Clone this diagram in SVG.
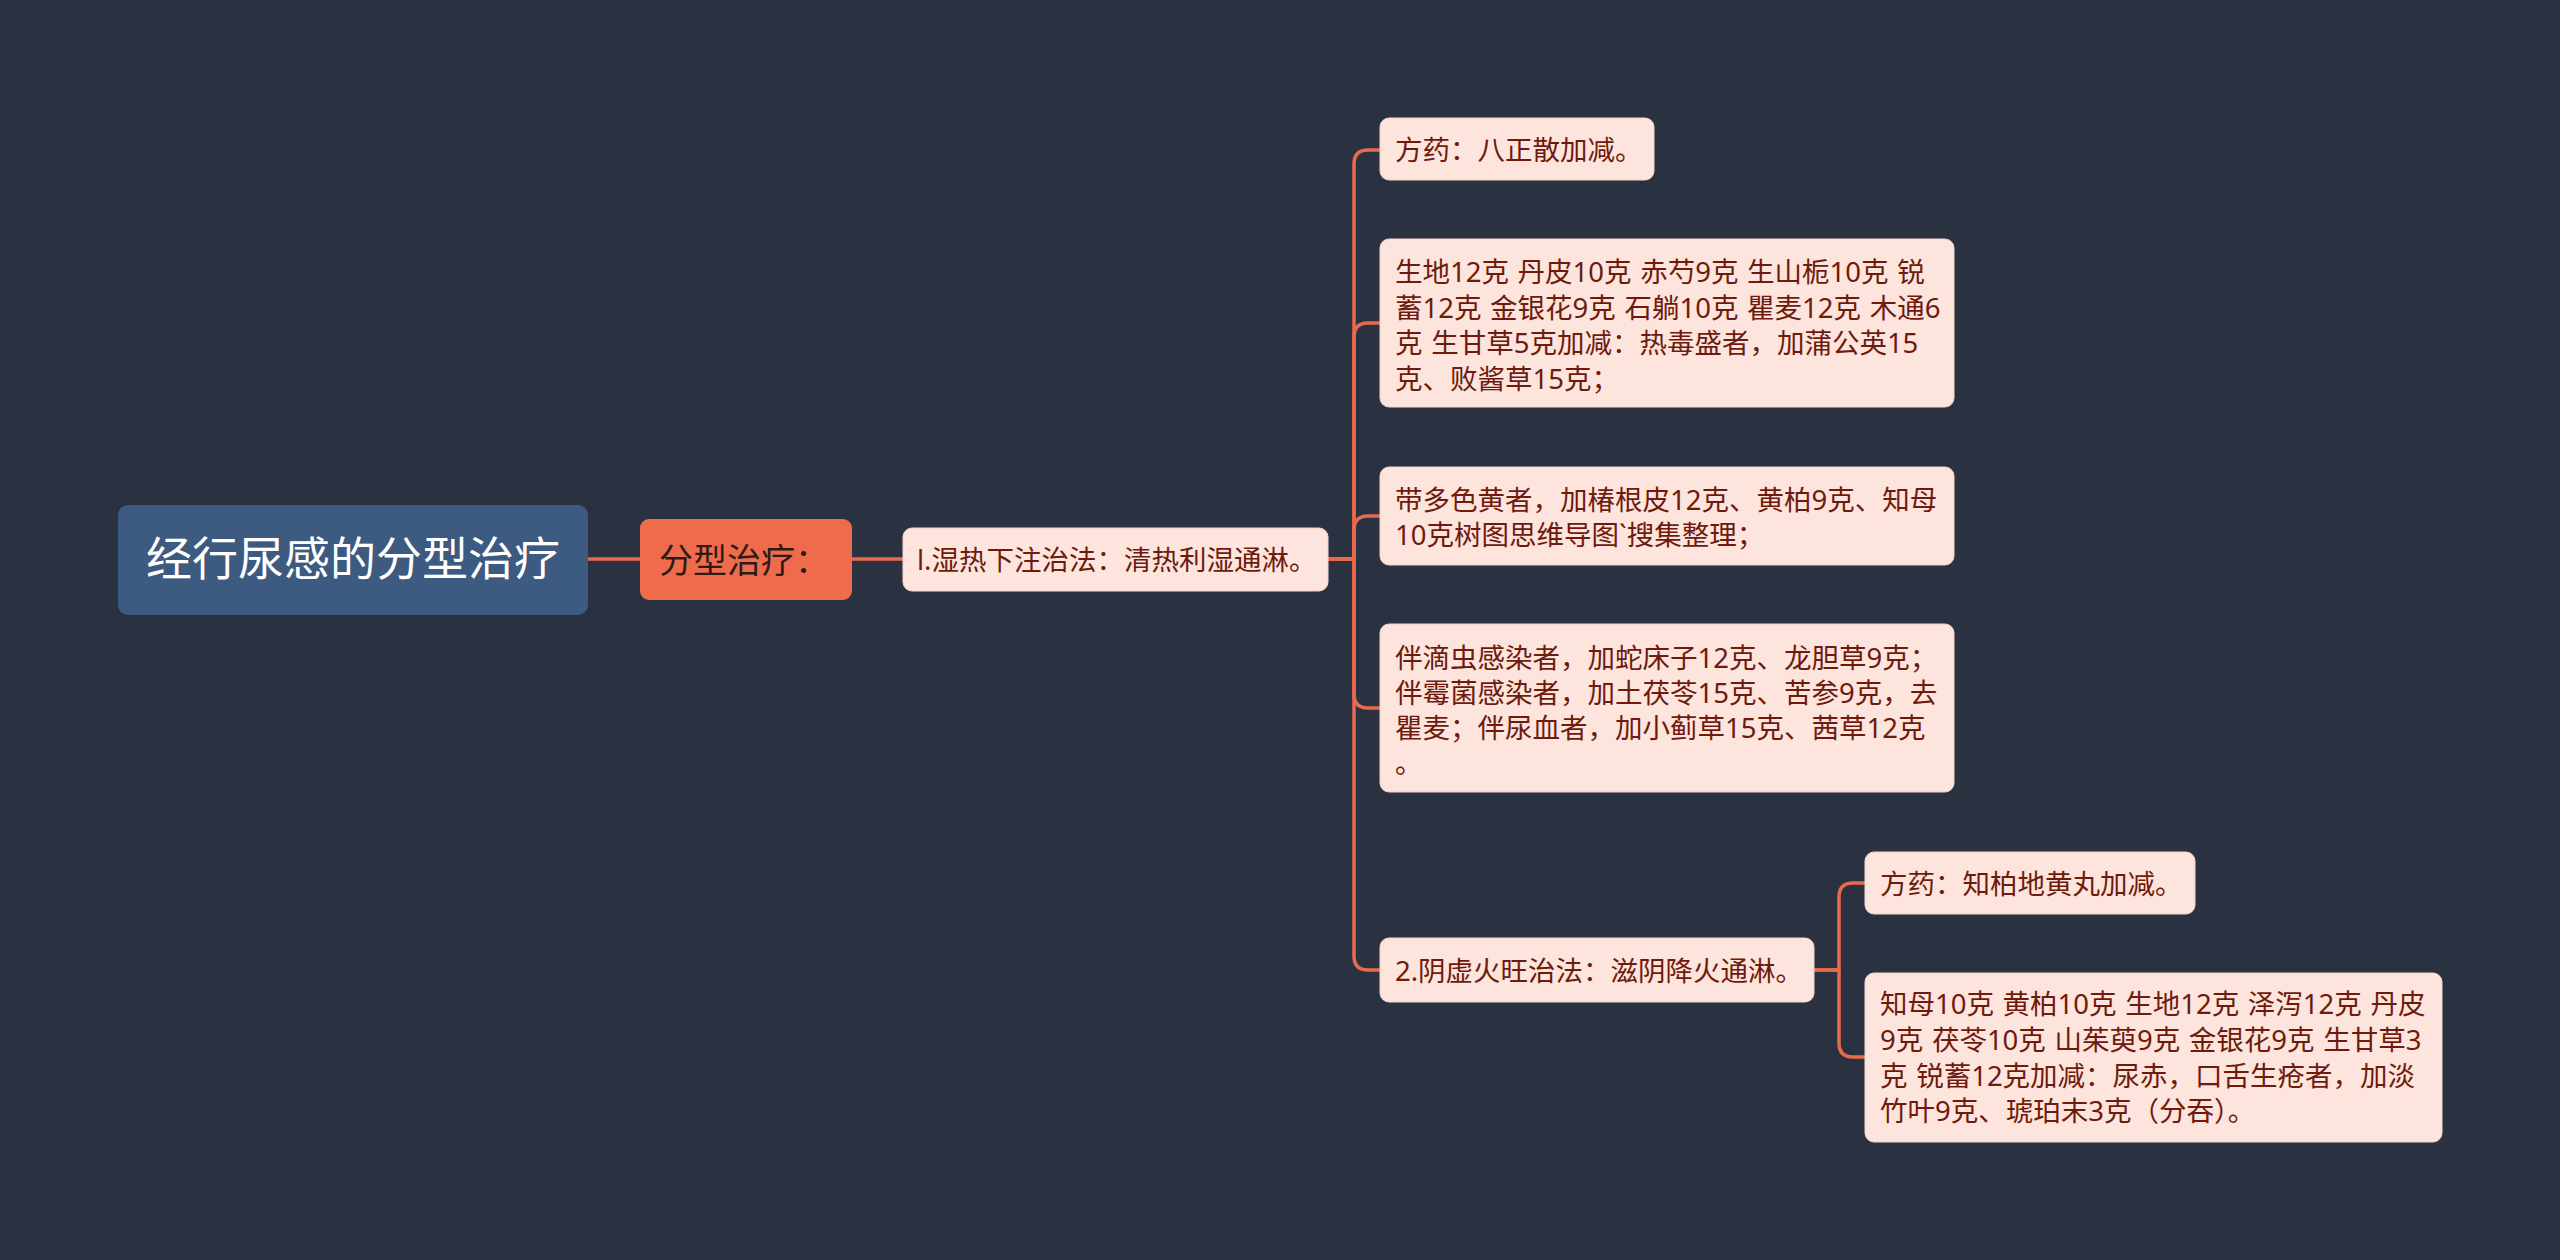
<svg xmlns="http://www.w3.org/2000/svg" width="2560" height="1260" viewBox="0 0 2560 1260">
<style>
.bg{fill:#2a3242}
.root{fill:#3d5a80}
.sub{fill:#ee6b4c}
.leaf{fill:#fde4dd;stroke:#f7d3c9;stroke-width:1}
.t{font-family:"Noto Sans CJK SC","Noto Sans",sans-serif}
.rt{fill:#ffffff;font-size:46px}
.st{fill:#2e1a16;font-size:34px}
.lt{fill:#6e1a0c;font-size:27.5px;font-family:"Noto Sans","Noto Sans CJK SC",sans-serif;word-spacing:1.5px}
.c{fill:none;stroke:#e86a4c;stroke-width:3.5;stroke-linecap:round;stroke-linejoin:round}
</style>
<rect class="bg" x="0" y="0" width="2560" height="1260"/>
<g id="connectors">
<path class="c" d="M588 559 L640 559"/>
<path class="c" d="M852 559 L903 559"/>
<path class="c" d="M1328 559 L1354 559 L1354 164 Q1354 150 1368 150 L1380 150"/>
<path class="c" d="M1328 559 L1354 559 L1354 337 Q1354 323 1368 323 L1380 323"/>
<path class="c" d="M1328 559 L1354 559 L1354 530 Q1354 516 1368 516 L1380 516"/>
<path class="c" d="M1328 559 L1354 559 L1354 694 Q1354 708 1368 708 L1380 708"/>
<path class="c" d="M1328 559 L1354 559 L1354 956 Q1354 970 1368 970 L1380 970"/>
<path class="c" d="M1814 970 L1839 970 L1839 897 Q1839 883 1853 883 L1865 883"/>
<path class="c" d="M1814 970 L1839 970 L1839 1043 Q1839 1057 1853 1057 L1865 1057"/>
</g>
<g id="root">
<rect class="root" x="118" y="505" width="470" height="110" rx="10"/>
<text class="t rt" x="353" y="575" text-anchor="middle">经行尿感的分型治疗</text>
</g>
<g id="n-fenxing">
<rect class="sub" x="640" y="519" width="212" height="81" rx="9"/>
<text class="t st" x="659" y="573">分型治疗：</text>
</g>
<g id="n-shire">
<rect class="leaf" x="903" y="528" width="425" height="63" rx="9"/>
<text class="t lt" x="917" y="570">l.湿热下注治法：清热利湿通淋。</text>
</g>
<g id="n-fangyao1">
<rect class="leaf" x="1380" y="118" width="274" height="62" rx="9"/>
<text class="t lt" x="1395" y="160">方药：八正散加减。</text>
</g>
<g id="n-shengdi">
<rect class="leaf" x="1380" y="239" width="574" height="168" rx="9"/>
<text class="t lt" x="1395" y="282">生地12克 丹皮10克 赤芍9克 生山栀10克 锐</text>
<text class="t lt" x="1395" y="317.5">蓄12克 金银花9克 石躺10克 瞿麦12克 木通6</text>
<text class="t lt" x="1395" y="353">克 生甘草5克加减：热毒盛者，加蒲公英15</text>
<text class="t lt" x="1395" y="388.5">克、败酱草15克；</text>
</g>
<g id="n-daiduo">
<rect class="leaf" x="1380" y="467" width="574" height="98" rx="9"/>
<text class="t lt" x="1395" y="510">带多色黄者，加椿根皮12克、黄柏9克、知母</text>
<text class="t lt" x="1395" y="545">10克树图思维导图`搜集整理；</text>
</g>
<g id="n-bandi">
<rect class="leaf" x="1380" y="624" width="574" height="168" rx="9"/>
<text class="t lt" x="1395" y="668">伴滴虫感染者，加蛇床子12克、龙胆草9克；</text>
<text class="t lt" x="1395" y="703">伴霉菌感染者，加土茯苓15克、苦参9克，去</text>
<text class="t lt" x="1395" y="738">瞿麦；伴尿血者，加小蓟草15克、茜草12克</text>
<text class="t lt" x="1395" y="773">。</text>
</g>
<g id="n-yinxu">
<rect class="leaf" x="1380" y="938" width="434" height="64" rx="9"/>
<text class="t lt" x="1395" y="981">2.阴虚火旺治法：滋阴降火通淋。</text>
</g>
<g id="n-fangyao2">
<rect class="leaf" x="1865" y="852" width="330" height="62" rx="9"/>
<text class="t lt" x="1880" y="894">方药：知柏地黄丸加减。</text>
</g>
<g id="n-zhimu">
<rect class="leaf" x="1865" y="973" width="577" height="169" rx="9"/>
<text class="t lt" x="1880" y="1014">知母10克 黄柏10克 生地12克 泽泻12克 丹皮</text>
<text class="t lt" x="1880" y="1050">9克 茯苓10克 山茱萸9克 金银花9克 生甘草3</text>
<text class="t lt" x="1880" y="1086">克 锐蓄12克加减：尿赤，口舌生疮者，加淡</text>
<text class="t lt" x="1880" y="1121">竹叶9克、琥珀末3克（分吞）。</text>
</g>
</svg>
